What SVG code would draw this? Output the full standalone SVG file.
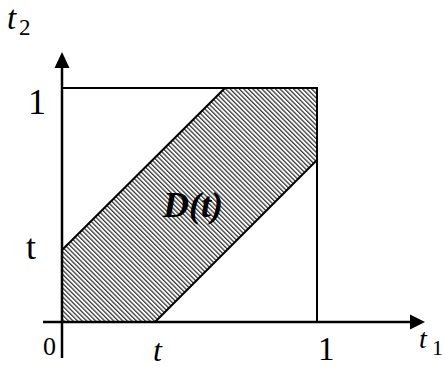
<svg xmlns="http://www.w3.org/2000/svg" width="445" height="367" viewBox="0 0 445 367">
<defs>
<pattern id="hatch" patternUnits="userSpaceOnUse" width="3.2" height="3.2" patternTransform="rotate(-45)">
<rect x="0" y="0" width="1.3" height="3.2" fill="#3a3a3a"/>
</pattern>
</defs>
<style>
.ax{stroke:#000;stroke-width:2.5;fill:none}
.bx{stroke:#000;stroke-width:2;fill:none}
.tr{font-family:"Liberation Serif",serif;fill:#000}
.it{font-style:italic}
</style>
<rect width="445" height="367" fill="#fff"/>
<g id="region">
<polygon points="62,250 62,322 155,322 317,160 317,88 225,88" fill="url(#hatch)" stroke="none"/>
<line class="bx" x1="62" y1="250" x2="225" y2="88"/>
<line class="bx" x1="155" y1="322" x2="317" y2="160"/>
</g>
<g id="square">
<polyline class="bx" points="62,88 317,88 317,322"/>
</g>
<g id="axes">
<line class="ax" x1="62" y1="358" x2="62" y2="66"/>
<polygon points="62,52 54.5,68 69.5,68" fill="#000"/>
<line class="ax" x1="43" y1="322" x2="412" y2="322"/>
<polygon points="425,322 410,314.5 410,329.5" fill="#000"/>
</g>
<g id="labels">
<text class="tr it" x="7" y="29" font-size="33">t</text>
<text class="tr" x="19" y="35" font-size="23">2</text>
<text class="tr" x="28" y="114" font-size="36">1</text>
<text class="tr" x="26" y="259" font-size="36">t</text>
<text class="tr" x="43" y="355" font-size="26">0</text>
<text class="tr it" x="153" y="361" font-size="32">t</text>
<text class="tr" x="318" y="360" font-size="33">1</text>
<text class="tr it" x="419" y="348" font-size="28">t</text>
<text class="tr" x="432" y="355" font-size="22">1</text>
<text class="tr it" x="163" y="217" font-size="36" font-weight="bold">D(t)</text>
</g>
</svg>
